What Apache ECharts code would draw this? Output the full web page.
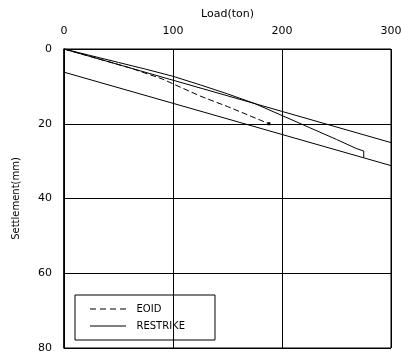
<!DOCTYPE html>
<html>
<head>
<meta charset="utf-8">
<script src="https://cdn.jsdelivr.net/npm/echarts@6/dist/echarts.min.js"></script>
<style>html,body{margin:0;padding:0;background:#fff}#c{width:401px;height:356px}</style>
</head>
<body>
<div id="c"></div>
<script>
const xTicks = [0, 100, 200, 300];
const yTicks = [0, 20, 40, 60, 80];
const eoidLoad = [0, 30, 60, 90, 125, 150, 170, 188];
const eoidSettle = [0, 2.5, 5.0, 8.0, 12.6, 15.4, 17.8, 20];
const restrikeLoad = [0, 25, 50, 75, 100, 125, 150, 175, 200, 225, 250, 268, 275, 275];
const restrikeSettle = [0, 1.8, 3.6, 5.4, 7.3, 9.6, 12.0, 14.6, 17.8, 21.0, 24.2, 26.6, 27.3, 29.0];
const upperLineLoad = [0, 300];
const upperLineSettle = [0, 25.05];
const lowerLineLoad = [0, 300];
const lowerLineSettle = [6.2, 31.2];

const font = 'DejaVu Sans';
const eoidData = eoidLoad.map((x, i) => i === eoidLoad.length - 1
  ? {value: [x, eoidSettle[i]], symbol: 'rect', symbolSize: 3}
  : [x, eoidSettle[i]]);

const chart = echarts.init(document.getElementById('c'), null, {renderer: 'canvas'});
chart.setOption({
  animation: false,
  backgroundColor: '#fff',
  grid: {left: 64, top: 49, right: 10, bottom: 8, show: true, borderColor: '#000', borderWidth: 1,
    containLabel: false, outerBoundsMode: 'none'},
  legend: {
    data: [
      {name: 'EOID', icon: 'path://M0 0h6v1h-6z M10 0h6v1h-6z M20 0h6v1h-6z M30 0h6v1h-6z'},
      {name: 'RESTRIKE', icon: 'path://M0 0h36v1h-36z'}
    ],
    orient: 'vertical',
    left: 75, top: 295,
    borderColor: '#000', borderWidth: 1, borderRadius: 0,
    padding: [9, 30, 9, 15],
    itemWidth: 37, itemHeight: 1, itemGap: 7,
    textStyle: {fontFamily: font, fontSize: 10, color: '#000', padding: [0, 0, 0, 5]}
  },
  xAxis: {
    type: 'value', position: 'top', min: 0, max: 300, interval: 100,
    name: 'Load(ton)', nameLocation: 'middle', nameGap: 29,
    nameTextStyle: {fontFamily: font, fontSize: 11, color: '#000'},
    axisLine: {show: true, lineStyle: {color: '#000', width: 1}},
    axisTick: {show: false},
    axisLabel: {fontFamily: font, fontSize: 11, color: '#000', margin: 12,
      formatter: v => xTicks.includes(v) ? String(v) : ''},
    splitLine: {show: true, lineStyle: {color: '#000', width: 1}}
  },
  yAxis: {
    type: 'value', inverse: true, min: 0, max: 80, interval: 20,
    name: 'Settlement(mm)', nameLocation: 'middle', nameGap: 43, nameRotate: 90,
    nameTextStyle: {fontFamily: font, fontSize: 10, color: '#000'},
    axisLine: {show: true, lineStyle: {color: '#000', width: 1.5}},
    axisTick: {show: false},
    axisLabel: {fontFamily: font, fontSize: 11, color: '#000', margin: 12,
      formatter: v => yTicks.includes(v) ? String(v) : ''},
    splitLine: {show: true, lineStyle: {color: '#000', width: 1}}
  },
  series: [
    {name: 'EOID', type: 'line', symbol: 'none', data: eoidData,
      lineStyle: {color: '#000', width: 1, type: [6, 3]}, itemStyle: {color: '#000'}},
    {name: 'RESTRIKE', type: 'line', symbol: 'none',
      data: restrikeLoad.map((x, i) => [x, restrikeSettle[i]]),
      lineStyle: {color: '#000', width: 1}, itemStyle: {color: '#000'}},
    {name: 'upper', type: 'line', symbol: 'none',
      data: upperLineLoad.map((x, i) => [x, upperLineSettle[i]]),
      lineStyle: {color: '#000', width: 1}},
    {name: 'lower', type: 'line', symbol: 'none',
      data: lowerLineLoad.map((x, i) => [x, lowerLineSettle[i]]),
      lineStyle: {color: '#000', width: 1}}
  ]
});
</script>
</body>
</html>
